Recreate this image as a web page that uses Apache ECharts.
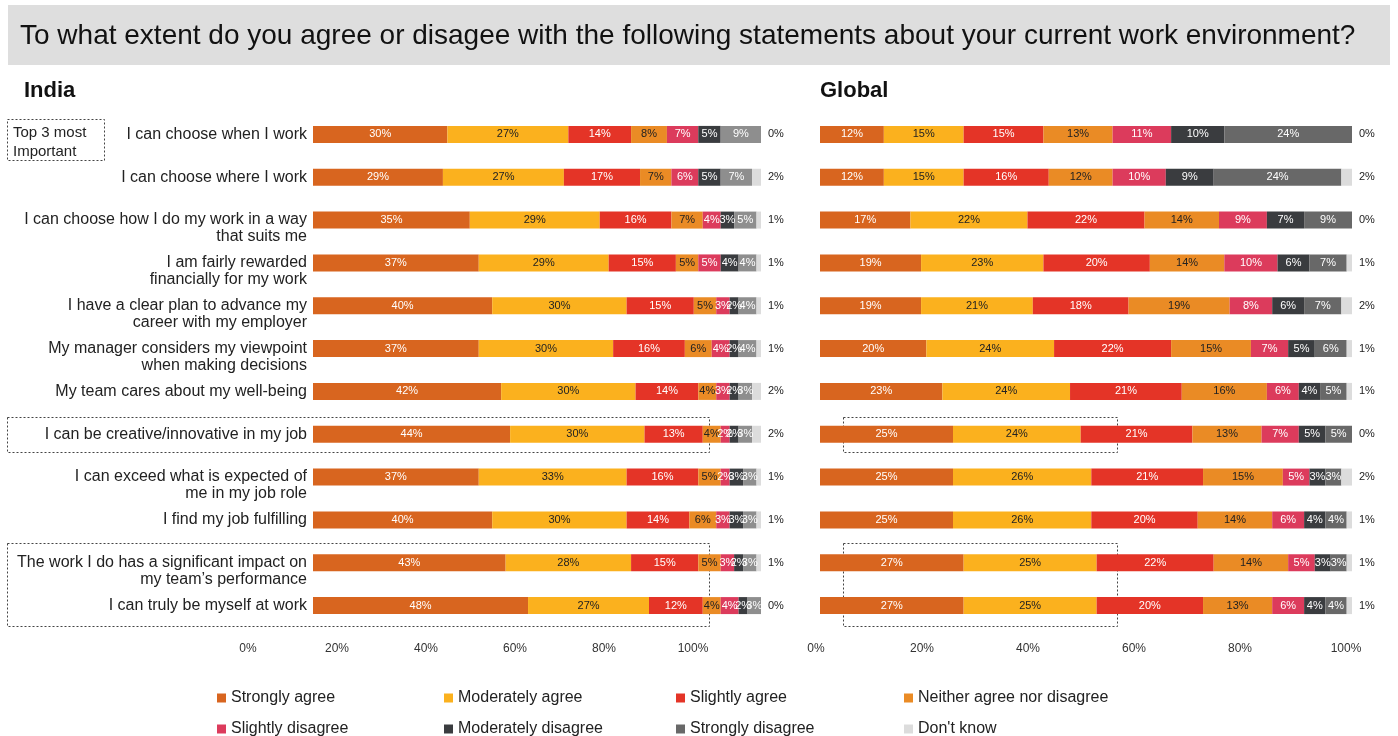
<!DOCTYPE html>
<html>
<head>
<meta charset="utf-8">
<script src="https://cdn.jsdelivr.net/npm/echarts@6/dist/echarts.min.js"></script>
<style>
  html, body { margin: 0; padding: 0; background: #ffffff; }
  #chart { width: 1398px; height: 736px; }
</style>
</head>
<body>
<div id="chart"></div>
<script>
// ---------------- DATA ----------------
const categories = [
  "I can choose when I work",
  "I can choose where I work",
  "I can choose how I do my work in a way\nthat suits me",
  "I am fairly rewarded\nfinancially for my work",
  "I have a clear plan to advance my\ncareer with my employer",
  "My manager considers my viewpoint\nwhen making decisions",
  "My team cares about my well-being",
  "I can be creative/innovative in my job",
  "I can exceed what is expected of\nme in my job role",
  "I find my job fulfilling",
  "The work I do has a significant impact on\nmy team\u2019s performance",
  "I can truly be myself at work"
];
const seriesNames = ["Strongly agree", "Moderately agree", "Slightly agree", "Neither agree nor disagree",
  "Slightly disagree", "Moderately disagree", "Strongly disagree", "Don't know"];

// India
const indiaStronglyAgree      = [30, 29, 35, 37, 40, 37, 42, 44, 37, 40, 43, 48];
const indiaModeratelyAgree    = [27, 27, 29, 29, 30, 30, 30, 30, 33, 30, 28, 27];
const indiaSlightlyAgree      = [14, 17, 16, 15, 15, 16, 14, 13, 16, 14, 15, 12];
const indiaNeither            = [8, 7, 7, 5, 5, 6, 4, 4, 5, 6, 5, 4];
const indiaSlightlyDisagree   = [7, 6, 4, 5, 3, 4, 3, 2, 2, 3, 3, 4];
const indiaModeratelyDisagree = [5, 5, 3, 4, 2, 2, 2, 2, 3, 3, 2, 2];
const indiaStronglyDisagree   = [9, 7, 5, 4, 4, 4, 3, 3, 3, 3, 3, 3];
const indiaDontKnow           = [0, 2, 1, 1, 1, 1, 2, 2, 1, 1, 1, 0];

// Global
const globalStronglyAgree      = [12, 12, 17, 19, 19, 20, 23, 25, 25, 25, 27, 27];
const globalModeratelyAgree    = [15, 15, 22, 23, 21, 24, 24, 24, 26, 26, 25, 25];
const globalSlightlyAgree      = [15, 16, 22, 20, 18, 22, 21, 21, 21, 20, 22, 20];
const globalNeither            = [13, 12, 14, 14, 19, 15, 16, 13, 15, 14, 14, 13];
const globalSlightlyDisagree   = [11, 10, 9, 10, 8, 7, 6, 7, 5, 6, 5, 6];
const globalModeratelyDisagree = [10, 9, 7, 6, 6, 5, 4, 5, 3, 4, 3, 4];
const globalStronglyDisagree   = [24, 24, 9, 7, 7, 6, 5, 5, 3, 4, 3, 4];
const globalDontKnow           = [0, 2, 0, 1, 2, 1, 1, 0, 2, 1, 1, 1];

const axisTicks = [0, 20, 40, 60, 80, 100];

// ---------------- STYLE ----------------
const FONT = "'Liberation Sans', Arial, Helvetica, sans-serif";
const colorsIndia  = ["#d8651f", "#fbb11e", "#e43427", "#ea8b25", "#dc3b5c", "#3a3c3f", "#8e8e8e", "#dcdcdc"];
const colorsGlobal = ["#d8651f", "#fbb11e", "#e43427", "#ea8b25", "#dc3b5c", "#3a3c3f", "#686868", "#dcdcdc"];
const labelColors  = ["#ffffff", "#222222", "#ffffff", "#222222", "#ffffff", "#ffffff", "#ffffff", "#222222"];

const indiaData  = [indiaStronglyAgree, indiaModeratelyAgree, indiaSlightlyAgree, indiaNeither,
  indiaSlightlyDisagree, indiaModeratelyDisagree, indiaStronglyDisagree, indiaDontKnow];
const globalData = [globalStronglyAgree, globalModeratelyAgree, globalSlightlyAgree, globalNeither,
  globalSlightlyDisagree, globalModeratelyDisagree, globalStronglyDisagree, globalDontKnow];

const GRID_TOP = 113, GRID_H = 514, BAR_W = 17;

function buildSeries(data, colors, stack, axisIdx) {
  return data.map((vals, i) => {
    const isDK = i === data.length - 1;
    return {
      name: seriesNames[i],
      type: 'bar',
      stack: stack,
      xAxisIndex: axisIdx,
      yAxisIndex: axisIdx,
      barWidth: BAR_W,
      itemStyle: { color: colors[i] },
      emphasis: { disabled: true },
      label: isDK ? {
        show: true, position: 'right', distance: 7,
        formatter: p => p.value + '%',
        color: '#222', fontSize: 11, fontFamily: FONT
      } : {
        show: true, position: 'inside',
        formatter: p => p.value + '%',
        color: labelColors[i], fontSize: 11, fontFamily: FONT
      },
      data: vals
    };
  });
}

const chart = echarts.init(document.getElementById('chart'), null, { renderer: 'canvas' });

const dashed = { fill: 'none', stroke: '#444', lineWidth: 1, lineDash: [2, 2] };

// legend layout: 4 columns x 2 rows
const legendCols = [217, 444, 676, 904];
const legendRows = [690, 721];
const legends = seriesNames.map((n, i) => ({
  data: [{ name: n, itemStyle: { color: colorsGlobal[i] } }],
  left: legendCols[i % 4], top: legendRows[Math.floor(i / 4)],
  orient: 'horizontal', icon: 'rect', itemWidth: 9, itemHeight: 9, itemGap: 5,
  padding: 0, selectedMode: false,
  textStyle: { fontFamily: FONT, fontSize: 16, color: '#222' }
}));

const option = {
  backgroundColor: '#ffffff',
  animation: false,
  title: [
    { text: 'To what extent do you agree or disagee with the following statements about your current work environment?',
      left: 20, top: 22, padding: 0,
      textStyle: { fontFamily: FONT, fontSize: 28, fontWeight: 'normal', color: '#111' } },
    { text: 'India', left: 24, top: 80, padding: 0,
      textStyle: { fontFamily: FONT, fontSize: 22, fontWeight: 'bold', color: '#111' } },
    { text: 'Global', left: 820, top: 80, padding: 0,
      textStyle: { fontFamily: FONT, fontSize: 22, fontWeight: 'bold', color: '#111' } }
  ],
  graphic: [
    { type: 'rect', z: -10, shape: { x: 8, y: 5, width: 1382, height: 60 }, style: { fill: '#dedede' } },
    { type: 'rect', shape: { x: 7.5, y: 119.5, width: 97, height: 41 }, style: dashed },
    { type: 'text', x: 13, y: 123, style: { text: 'Top 3 most\nImportant', font: '15px ' + FONT, fill: '#222', lineHeight: 19 } },
    { type: 'rect', shape: { x: 7.5, y: 417.5, width: 702, height: 35 }, style: dashed },
    { type: 'rect', shape: { x: 7.5, y: 543.5, width: 702, height: 83 }, style: dashed },
    { type: 'rect', shape: { x: 843.5, y: 417.5, width: 274, height: 35 }, style: dashed },
    { type: 'rect', shape: { x: 843.5, y: 543.5, width: 274, height: 83 }, style: dashed }
  ],
  legend: legends,
  grid: [
    { left: 313, width: 448, top: GRID_TOP, height: GRID_H, containLabel: false },
    { left: 820, width: 532, top: GRID_TOP, height: GRID_H, containLabel: false },
    { left: 248, width: 445, top: GRID_TOP, height: GRID_H, containLabel: false },
    { left: 816, width: 530, top: GRID_TOP, height: GRID_H, containLabel: false }
  ],
  xAxis: [0, 1, 2, 3].map(i => ({
    type: 'value', gridIndex: i, min: axisTicks[0], max: axisTicks[axisTicks.length - 1],
    interval: axisTicks[1] - axisTicks[0],
    axisLine: { show: false }, axisTick: { show: false }, splitLine: { show: false },
    axisLabel: i < 2 ? { show: false } : {
      show: true, margin: 16, formatter: '{value}%',
      fontFamily: FONT, fontSize: 12, color: '#333'
    }
  })),
  yAxis: [0, 1, 2, 3].map(i => ({
    type: 'category', gridIndex: i, data: categories, inverse: true,
    show: i === 0,
    axisLine: { show: false }, axisTick: { show: false }, splitLine: { show: false },
    axisLabel: i === 0 ? {
      show: true, margin: 6, align: 'right', verticalAlign: 'middle',
      fontFamily: FONT, fontSize: 16, color: '#222', lineHeight: 17,
      formatter: v => v.indexOf('\n') >= 0 ? '\n' + v : v
    } : { show: false }
  })),
  series: [
    ...buildSeries(indiaData, colorsIndia, 'india', 0),
    ...buildSeries(globalData, colorsGlobal, 'global', 1)
  ]
};

chart.setOption(option);
</script>
</body>
</html>
